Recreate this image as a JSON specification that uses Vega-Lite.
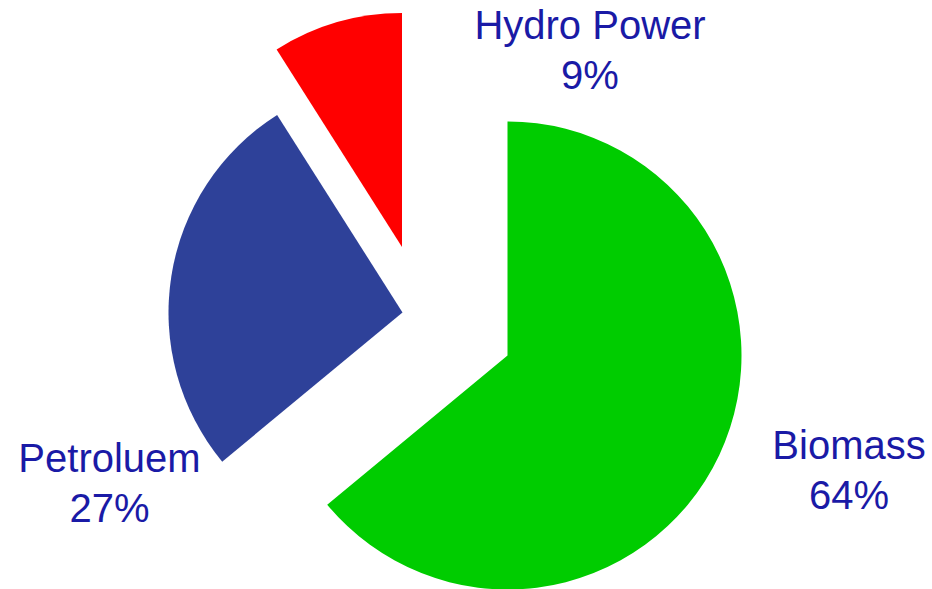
{
  "$schema": "https://vega.github.io/schema/vega-lite/v6.json",
  "width": 932,
  "height": 589,
  "autosize": {"type": "fit", "contains": "padding"},
  "padding": 0,
  "background": "white",
  "view": {"stroke": null},
  "data": {
    "values": [
      {"source": "Biomass", "share": 64},
      {"source": "Petroluem", "share": 27},
      {"source": "Hydro Power", "share": 9}
    ]
  },
  "layer": [
    {
      "mark": {
        "type": "arc",
        "radius": 234,
        "x": {"expr": "width/2 + (datum.source === 'Biomass' ? 41.5 : datum.source === 'Petroluem' ? -63.5 : -64)"},
        "y": {"expr": "height/2 + (datum.source === 'Biomass' ? 62 : datum.source === 'Petroluem' ? 19 : -46.5)"}
      },
      "encoding": {
        "theta": {"field": "share", "type": "quantitative", "stack": true, "scale": {"domain": [0, 100]}},
        "order": {"field": "share", "sort": "descending"},
        "color": {
          "field": "source",
          "type": "nominal",
          "scale": {"domain": ["Biomass", "Petroluem", "Hydro Power"], "range": ["#00cc00", "#2e4199", "#ff0000"]},
          "legend": null
        }
      }
    },
    {
      "transform": [
        {"calculate": "[datum.source, datum.share + '%']", "as": "label"}
      ],
      "mark": {
        "type": "text",
        "font": "Liberation Sans",
        "fontSize": 40,
        "lineHeight": 50,
        "align": "center",
        "baseline": "alphabetic",
        "color": "#1a1aa6",
        "x": {"expr": "width/2 + (datum.source === 'Biomass' ? 383 : datum.source === 'Petroluem' ? -356.5 : 124)"},
        "y": {"expr": "height/2 + (datum.source === 'Biomass' ? 165.5 : datum.source === 'Petroluem' ? 178.5 : -254.5)"}
      },
      "encoding": {
        "text": {"field": "label", "type": "nominal"}
      }
    }
  ]
}
